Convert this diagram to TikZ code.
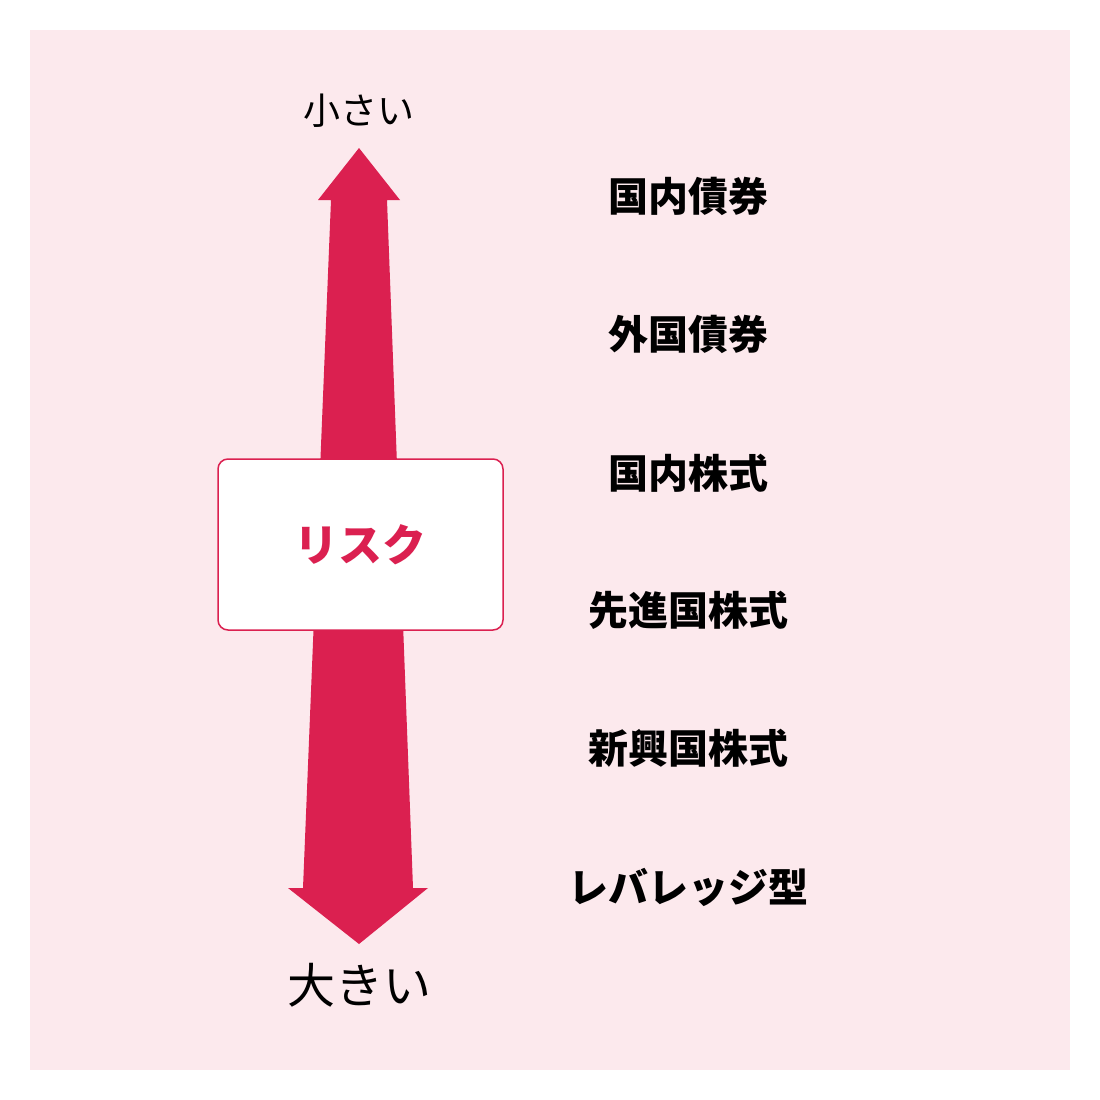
\documentclass[tikz,border=0pt]{standalone}
\usepackage{fontspec}
\newfontfamily\cjk{Noto Sans CJK JP}
\definecolor{bgpink}{HTML}{FCE9ED}
\definecolor{arrowred}{HTML}{DB2050}
\begin{document}
\begin{tikzpicture}[x=1pt,y=-1pt,
  item/.style={font=\cjk\bfseries\fontsize{40}{44}\selectfont,anchor=center,inner sep=0pt}]
\useasboundingbox (0,0) rectangle (1100,1100);
\fill[white] (0,0) rectangle (1100,1100);
\fill[bgpink] (30,30) rectangle (1070,1070);
\fill[arrowred] (359,148) -- (400,200) -- (387,200) -- (413,888) -- (428,888) -- (359,944) -- (288,888) -- (303,888) -- (331,200) -- (318,200) -- cycle;
\node[draw=arrowred,line width=1.5pt,fill=white,rounded corners=10pt,minimum width=285pt,minimum height=171pt,inner sep=0pt] (box) at (360.5,544.5) {};
\node[font=\cjk\bfseries\fontsize{44}{48}\selectfont,text=arrowred,inner sep=0pt] (risk) at (box.center) {リスク};
\node[font=\cjk\fontsize{37}{40}\selectfont,inner sep=0pt] (small) at (359,111) {小さい};
\node[font=\cjk\fontsize{48}{52}\selectfont,inner sep=0pt] (large) at (359,985) {大きい};
\node[item] (a) at (688,196) {国内債券};
\node[item] (b) at (688,334) {外国債券};
\node[item] (c) at (688,473) {国内株式};
\node[item] (d) at (688,610) {先進国株式};
\node[item] (e) at (688,748) {新興国株式};
\node[item] (f) at (688,887) {レバレッジ型};
\end{tikzpicture}
\end{document}
